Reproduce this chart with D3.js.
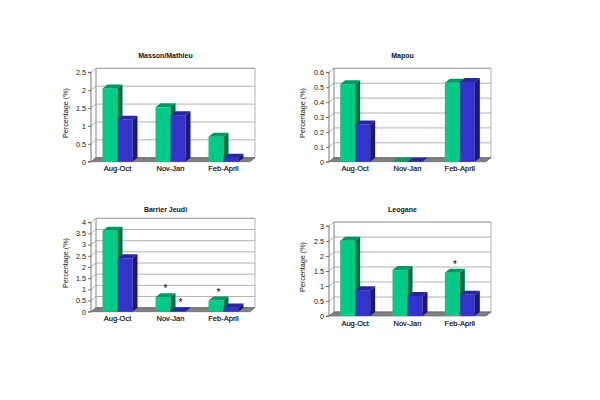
<!DOCTYPE html>
<html>
<head>
<meta charset="utf-8">
<script src="https://cdn.jsdelivr.net/npm/d3@7"></script>
<style>
body { margin: 0; background: #fff; }
text { font-family: "Liberation Sans", Arial, sans-serif; }
</style>
</head>
<body>
<svg id="chart"></svg>
<script>
// data
var categories = ["Aug-Oct", "Nov-Jan", "Feb-April"];
var titles = ["Masson/Mathieu", "Mapou", "Barrier Jeudi", "Leogane"];
var greenValues = [
    [2.05, 1.52, 0.70],
    [0.52, 0.0, 0.53],
    [3.62, 0.65, 0.50],
    [2.51, 1.53, 1.44]
];
var blueValues = [
    [1.17, 1.30, 0.11],
    [0.25, 0.0, 0.535],
    [2.39, 0.02, 0.19],
    [0.86, 0.67, 0.71]
];
var yMax = [2.5, 0.6, 4, 3];
var yStep = [0.5, 0.1, 0.5, 0.5];
// asterisks: [panel, category, series (0 green, 1 blue)]
var stars = [[2, 1, 0], [2, 1, 1], [2, 2, 0], [3, 2, 0]];

// layout of each panel (front plane)
var panels = [
    {x0: 91, w: 159, top: 72.3, base: 161.7, titleY: 58, labelX: 67.5},
    {x0: 329, w: 157, top: 72.3, base: 161.7, titleY: 58, labelX: 305},
    {x0: 91, w: 159, top: 222.3, base: 311.7, titleY: 212, labelX: 67.5},
    {x0: 329, w: 157, top: 226, base: 316, titleY: 212, labelX: 305}
];
var dx = 5, dy = 4, barW = 15;
var colors = {
    green: {front: "#00cc88", top: "#009966", side: "#006b4a"},
    blue: {front: "#3333cc", top: "#26269e", side: "#1a1a70"}
};

var svg = d3.select("#chart").attr("width", 600).attr("height", 400);

var drawBar = function(g, x, yv, y0, c) {
    g.append("rect")
        .attr("x", x).attr("y", yv)
        .attr("width", barW).attr("height", Math.max(0, y0 - yv))
        .attr("fill", c.front);
    g.append("path")
        .attr("d", "M" + x + "," + yv + "L" + (x + dx) + "," + (yv - dy) +
            "L" + (x + barW + dx) + "," + (yv - dy) + "L" + (x + barW) + "," + yv + "Z")
        .attr("fill", c.top);
    g.append("path")
        .attr("d", "M" + (x + barW) + "," + yv + "L" + (x + barW + dx) + "," + (yv - dy) +
            "L" + (x + barW + dx) + "," + (y0 - dy) + "L" + (x + barW) + "," + y0 + "Z")
        .attr("fill", c.side);
}

panels.forEach(function(p, i) {
    var g = svg.append("g");

    var x = d3.scaleBand().domain(categories).range([p.x0, p.x0 + p.w]);
    var y = d3.scaleLinear().domain([0, yMax[i]]).range([p.base, p.top]);
    var ticks = d3.range(0, yMax[i] + yStep[i] / 2, yStep[i]);

    // back wall
    g.append("rect")
        .attr("x", p.x0 + dx).attr("y", p.top - dy)
        .attr("width", p.w).attr("height", p.base - p.top)
        .attr("fill", "#fff").attr("stroke", "#a0a0a0").attr("stroke-width", 0.8);

    // gridlines on left + back wall
    ticks.forEach(function(t) {
        var yy = y(t);
        g.append("path")
            .attr("d", "M" + p.x0 + "," + yy + "L" + (p.x0 + dx) + "," + (yy - dy) +
                "L" + (p.x0 + p.w + dx) + "," + (yy - dy))
            .attr("fill", "none").attr("stroke", "#a0a0a0").attr("stroke-width", 0.8);
    });
    g.append("line")
        .attr("x1", p.x0 + dx).attr("x2", p.x0 + dx)
        .attr("y1", p.top - dy).attr("y2", p.base - dy)
        .attr("stroke", "#a0a0a0").attr("stroke-width", 0.8);

    // floor
    g.append("path")
        .attr("d", "M" + p.x0 + "," + p.base + "L" + (p.x0 + dx) + "," + (p.base - dy) +
            "L" + (p.x0 + p.w + dx) + "," + (p.base - dy) + "L" + (p.x0 + p.w) + "," + p.base + "Z")
        .attr("fill", "#808080").attr("stroke", "#5a5a5a").attr("stroke-width", 0.6);

    // y axis
    var axis = d3.axisLeft(y).tickValues(ticks).tickSize(3).tickPadding(2)
        .tickFormat(function(d) { return d3.format("~g")(+d.toFixed(2)); });
    var ax = g.append("g")
        .attr("transform", "translate(" + p.x0 + ",0)")
        .call(axis);
    ax.selectAll("path, line").attr("stroke", "#555").attr("stroke-width", 0.8);
    ax.select(".domain").attr("d", "M-3," + p.top + "H0V" + p.base + "H-3");
    ax.selectAll("text").attr("font-size", 7.2).attr("fill", "#111")
        .style("font-family", "'Liberation Sans', Arial, sans-serif");

    // bars
    categories.forEach(function(cat, j) {
        var cx = x(cat) + x.bandwidth() / 2;
        drawBar(g, cx - barW, y(greenValues[i][j]), p.base, colors.green);
        drawBar(g, cx, y(blueValues[i][j]), p.base, colors.blue);

        g.append("text")
            .attr("x", cx).attr("y", p.base + 9.5)
            .attr("text-anchor", "middle")
            .attr("font-size", 7.5).attr("fill", "#000")
            .attr("stroke", "#000").attr("stroke-width", 0.15)
            .text(cat);
    });

    // title
    g.append("text")
        .attr("x", p.x0 + p.w / 2 - 5).attr("y", p.titleY)
        .attr("text-anchor", "middle")
        .attr("font-size", 7).attr("font-weight", "bold").attr("fill", "#111")
        .text(titles[i]);

    // y title
    g.append("text")
        .attr("transform", "translate(" + p.labelX + "," + ((p.top + p.base) / 2 - 4) + ") rotate(-90)")
        .attr("text-anchor", "middle")
        .attr("font-size", 7.2).attr("fill", "#111")
        .text("Percentage (%)");
});

// significance markers
stars.forEach(function(s) {
    var p = panels[s[0]];
    var x = d3.scaleBand().domain(categories).range([p.x0, p.x0 + p.w]);
    var y = d3.scaleLinear().domain([0, yMax[s[0]]]).range([p.base, p.top]);
    var v = s[2] == 0 ? greenValues[s[0]][s[1]] : blueValues[s[0]][s[1]];
    var cx = x(categories[s[1]]) + x.bandwidth() / 2 + (s[2] == 0 ? -barW / 2 : barW / 2) + dx / 2;
    svg.append("text")
        .attr("x", cx).attr("y", y(v) - dy - 1)
        .attr("text-anchor", "middle")
        .attr("font-size", 10).attr("fill", "#000")
        .text("*");
});
</script>
</body>
</html>
